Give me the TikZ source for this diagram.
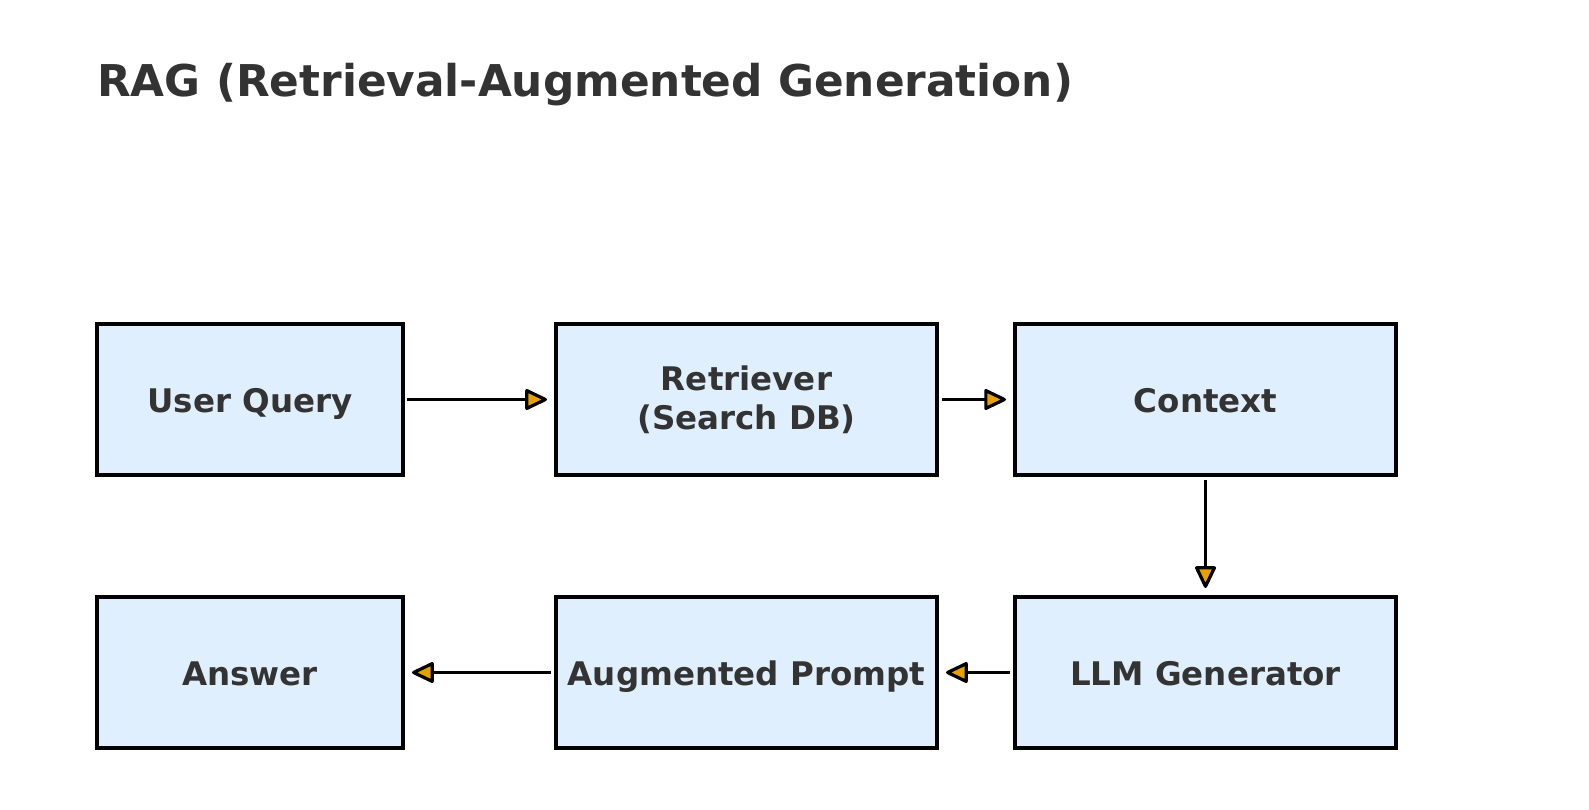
\documentclass[tikz,border=0pt]{standalone}
\usepackage{fontspec}
\setmainfont{DejaVu Sans}
\usetikzlibrary{arrows.meta}
\definecolor{boxfill}{RGB}{223,239,253}
\definecolor{txt}{RGB}{51,51,51}
\definecolor{tipfill}{RGB}{230,160,0}
\newcommand\boxstrut{\rule[-11pt]{0pt}{47pt}}
\tikzset{
  box/.style={draw=black, line width=4pt, fill=boxfill, minimum height=151pt, inner sep=0pt, outer sep=0pt,
    text=txt, font=\fontsize{32.5pt}{39pt}\selectfont\bfseries, align=center},
  conn/.style={line width=3.2pt, draw=black,
    -{Triangle[length=24pt,width=22pt,round,fill=tipfill]}},
}
\begin{document}
\begin{tikzpicture}[x=1pt,y=-1pt]
\useasboundingbox (0,0) rectangle (1589,810);
\node[anchor=base west, text=txt, font=\fontsize{43.8pt}{52pt}\selectfont\bfseries, inner sep=0pt] (title) at (97,97) {RAG (Retrieval-Augmented Generation)};
\node[box, minimum width=306pt] (q) at (250,399.5) {\boxstrut User Query};
\node[box, minimum width=381pt] (r) at (746.5,399.5) {Retriever\\(Search DB)};
\node[box, minimum width=381pt] (c) at (1205.5,399.5) {\boxstrut Context};
\node[box, minimum width=306pt] (a) at (250,672.5) {\boxstrut Answer};
\node[box, minimum width=381pt] (p) at (746.5,672.5) {\boxstrut Augmented Prompt};
\node[box, minimum width=381pt] (l) at (1205.5,672.5) {\boxstrut LLM Generator};
\draw[conn, shorten <=4pt, shorten >=9pt] (q.east) -- (r.west);
\draw[conn, shorten <=5pt, shorten >=9pt] (r.east) -- (c.west);
\draw[conn, shorten <=5pt, shorten >=9pt] (c.south) -- (l.north);
\draw[conn, shorten <=5pt, shorten >=9pt] (l.west) -- (p.east);
\draw[conn, shorten <=5pt, shorten >=9pt] (p.west) -- (a.east);
\end{tikzpicture}
\end{document}
